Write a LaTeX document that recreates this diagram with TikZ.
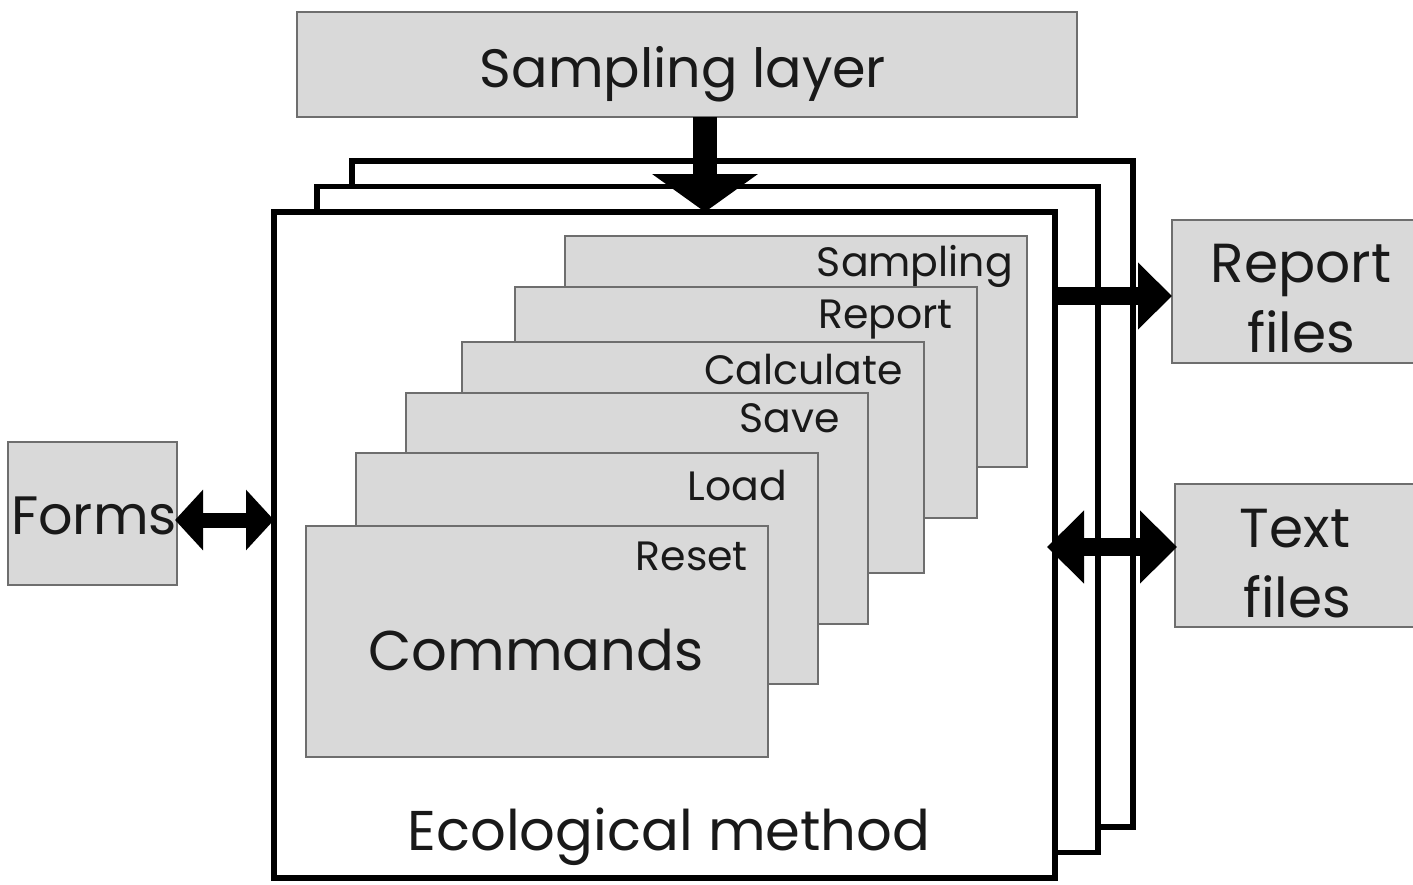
\documentclass[tikz,border=0pt]{standalone}
\usepackage{fontspec}
\setmainfont{Poppins}
\usetikzlibrary{arrows.meta,calc}
\definecolor{boxfill}{RGB}{217,217,217}
\definecolor{boxline}{RGB}{110,110,110}
\definecolor{ink}{RGB}{25,25,25}
\begin{document}
\begin{tikzpicture}[x=1pt,y=-1pt,
  graybox/.style={draw=boxline,line width=2pt,fill=boxfill,inner sep=0pt,outer sep=0pt,text=ink,align=center},
  frame/.style={draw=black,line width=5.5pt,fill=white,inner sep=0pt,outer sep=0pt,minimum width=781pt,minimum height=666pt},
  card/.style={graybox,minimum width=462pt,minimum height=231pt},
  cardlabel/.style={anchor=base east,inner sep=0pt,text=ink,font=\fontsize{41}{41}\selectfont},
  bigtext/.style={text=ink,inner sep=0pt,font=\fontsize{56}{66}\selectfont},
  blockarrow/.style={draw=black,line width=#1}
]
\useasboundingbox (0,0) rectangle (1413,884);
% frames
\node[frame] (back) at (742.5,494) {};
\node[frame] (mid) at (707.5,519.5) {};
\node[frame] (front) at (664.5,545) {};
% top box
\node[graybox,minimum width=780pt,minimum height=105pt] (sl) at (687,64.5) {};
\node[bigtext,anchor=base,font=\fontsize{54}{64}\selectfont] (slt) at (683,87) {Sampling layer};
% side boxes
\node[graybox,minimum width=169pt,minimum height=143pt,font=\fontsize{54}{64}\selectfont] (forms) at (92.5,513.5) {};
\node[bigtext,anchor=base,font=\fontsize{54}{64}\selectfont] (formst) at (94,534) {Forms};
\node[graybox,minimum width=245pt,minimum height=143pt] (rep) at (1294.5,291.5) {};
\node[bigtext,anchor=base,font=\fontsize{55}{64}\selectfont] (rept1) at (1301,282) {Report};
\node[bigtext,anchor=base,font=\fontsize{55}{64}\selectfont] (rept2) at (1301,352) {files};
\node[graybox,minimum width=242pt,minimum height=143pt] (txt) at (1296,555.5) {};
\node[bigtext,anchor=base,font=\fontsize{55}{64}\selectfont] (txtt1) at (1295,547) {Text};
\node[bigtext,anchor=base,font=\fontsize{55}{64}\selectfont] (txtt2) at (1297,617) {files};
% cards
\node[card] (c1) at (796,351.5) {};
\node[cardlabel] (l1) at (1013,276) {Sampling};
\node[card] (c2) at (746,402) {};
\node[cardlabel] (l2) at (953,328) {Report};
\node[card] (c3) at (692.5,457) {};
\node[cardlabel] (l3) at (903,384) {Calculate};
\node[card] (c4) at (637,508.5) {};
\node[cardlabel] (l4) at (840,432) {Save};
\node[card] (c5) at (587,568.5) {};
\node[cardlabel] (l5) at (787,500) {Load};
\node[card] (c6) at (536.5,641.5) {};
\node[cardlabel] (l6) at (748,570) {Reset};
\node[bigtext,anchor=base] (cmd) at (536,670) {Commands};
\node[bigtext,anchor=base] (eco) at (669,850) {Ecological method};
% arrows
\draw[blockarrow=24pt,-{Triangle[width=104pt 0 0,length=38pt 0 0]}] (sl.south -| 705,0) -- (front.north -| 705,0);
\draw[blockarrow=18pt,-{Triangle[width=65pt 0 0,length=34pt 0 0]}] (front.east |- 0,296) -- (rep.west |- 0,296);
\draw[blockarrow=18pt,{Triangle[width=71pt 0 0,length=37pt 0 0]}-{Triangle[width=71pt 0 0,length=37pt 0 0]}] ($(front.east |- 0,547)+(-8,0)$) -- ($(txt.west |- 0,547)+(2,0)$);
\draw[blockarrow=15pt,{Triangle[width=59pt 0 0,length=28pt 0 0]}-{Triangle[width=59pt 0 0,length=28pt 0 0]}] ($(forms.east |- 0,520)+(-2,0)$) -- (front.west |- 0,520);
\end{tikzpicture}
\end{document}
